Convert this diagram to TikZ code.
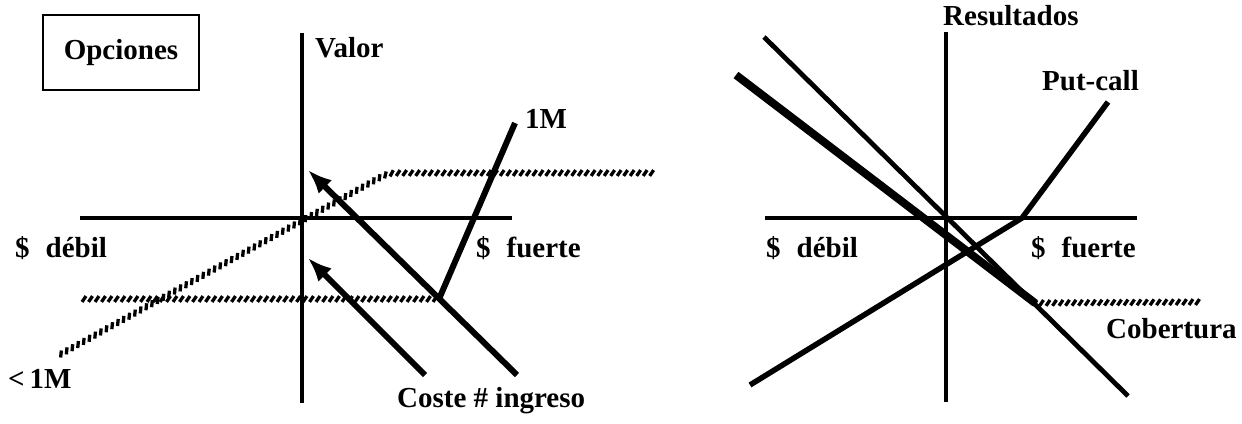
\documentclass[tikz,border=0pt]{standalone}
\usepackage{fontspec}
\setmainfont{Liberation Serif}
\usetikzlibrary{arrows.meta,decorations.markings}
\begin{document}
\begin{tikzpicture}[x=1pt,y=-1pt,
  lbl/.style={font=\bfseries\fontsize{29}{31}\selectfont, inner sep=0pt, anchor=base west},
  axisline/.style={line width=3.5pt},
  graphline/.style={line width=6pt},
  thinline/.style={line width=4.8pt},
  thickline/.style={line width=8pt},
  arr/.style={line width=6pt,-{Latex[length=24pt,width=19pt]}},
  hatch/.style={decorate, decoration={markings, mark=between positions 0 and 1 step 6.5pt with {\draw[line width=3.3pt] (-2pt,-2.9pt) -- (2pt,2.9pt);}}},
]
\useasboundingbox (0,0) rectangle (1242,423);

% ---------- left panel ----------
\node[draw, line width=2.8pt, minimum width=156pt, minimum height=75pt,
      font=\bfseries\fontsize{29}{31}\selectfont, inner sep=0pt] (box) at (121,52.5) {Opciones};

\coordinate (lvTop) at (302,33);
\coordinate (lvBot) at (302,403);
\coordinate (lhL) at (80,218);
\coordinate (lhR) at (512,218);
\draw[axisline] (lvTop) -- (lvBot);
\draw[axisline] (lhL) -- (lhR);

\coordinate (kink) at (439,299);
\coordinate (oneM) at (515,123);
\draw[graphline] (kink) -- (oneM);

\coordinate (la0) at (517,375);
\coordinate (la1) at (308,170);
\draw[arr] (la0) -- (la1);
\coordinate (sa0) at (425,375);
\coordinate (sa1) at (308,258);
\draw[arr] (sa0) -- (sa1);

\coordinate (lowL) at (84,299);
\path[hatch] (lowL) -- (kink);

\coordinate (dA) at (61,354);
\coordinate (dB1) at (373,181.3);
\coordinate (dBend) at (388,173);
\coordinate (dB2) at (404,173);
\coordinate (dC) at (657,173);
\path[hatch] (dA) -- (dB1) .. controls (dBend) .. (dB2) -- (dC);

\node[lbl] (valor) at (315,57) {Valor};
\node[lbl] (l1M) at (525,128) {1M};
\node[lbl] (ldebil) at (15,257) {\$\hspace{16pt}débil};
\node[lbl] (lfuerte) at (476,257) {\$\hspace{16pt}fuerte};
\node[lbl] (less1M) at (8,388) {<\,1M};
\node[lbl] (coste) at (397,407) {Coste \# ingreso};

% ---------- right panel ----------
\coordinate (rvTop) at (946,32);
\coordinate (rvBot) at (946,402);
\coordinate (rhL) at (765,218);
\coordinate (rhR) at (1137,218);
\draw[axisline] (rvTop) -- (rvBot);
\draw[axisline] (rhL) -- (rhR);

\coordinate (t0) at (764,37);
\coordinate (t1) at (1128,396);
\draw[thinline] (t0) -- (t1);

\coordinate (c0) at (736,75);
\coordinate (c1) at (1035,303);
\draw[thickline] (c0) -- (c1);
\coordinate (c2) at (1203,302);
\path[hatch] (c1) -- (c2);

\coordinate (p0) at (750,385);
\coordinate (pk) at (1022,218);
\coordinate (p1) at (1108,102);
\draw[line width=5.5pt, line join=miter] (p0) -- (pk) -- (p1);

\node[lbl] (result) at (943,25) {Resultados};
\node[lbl] (putcall) at (1042,90) {Put-call};
\node[lbl] (rdebil) at (766,257) {\$\hspace{16pt}débil};
\node[lbl] (rfuerte) at (1031,257) {\$\hspace{16pt}fuerte};
\node[lbl] (cob) at (1106,338) {Cobertura};
\end{tikzpicture}
\end{document}
